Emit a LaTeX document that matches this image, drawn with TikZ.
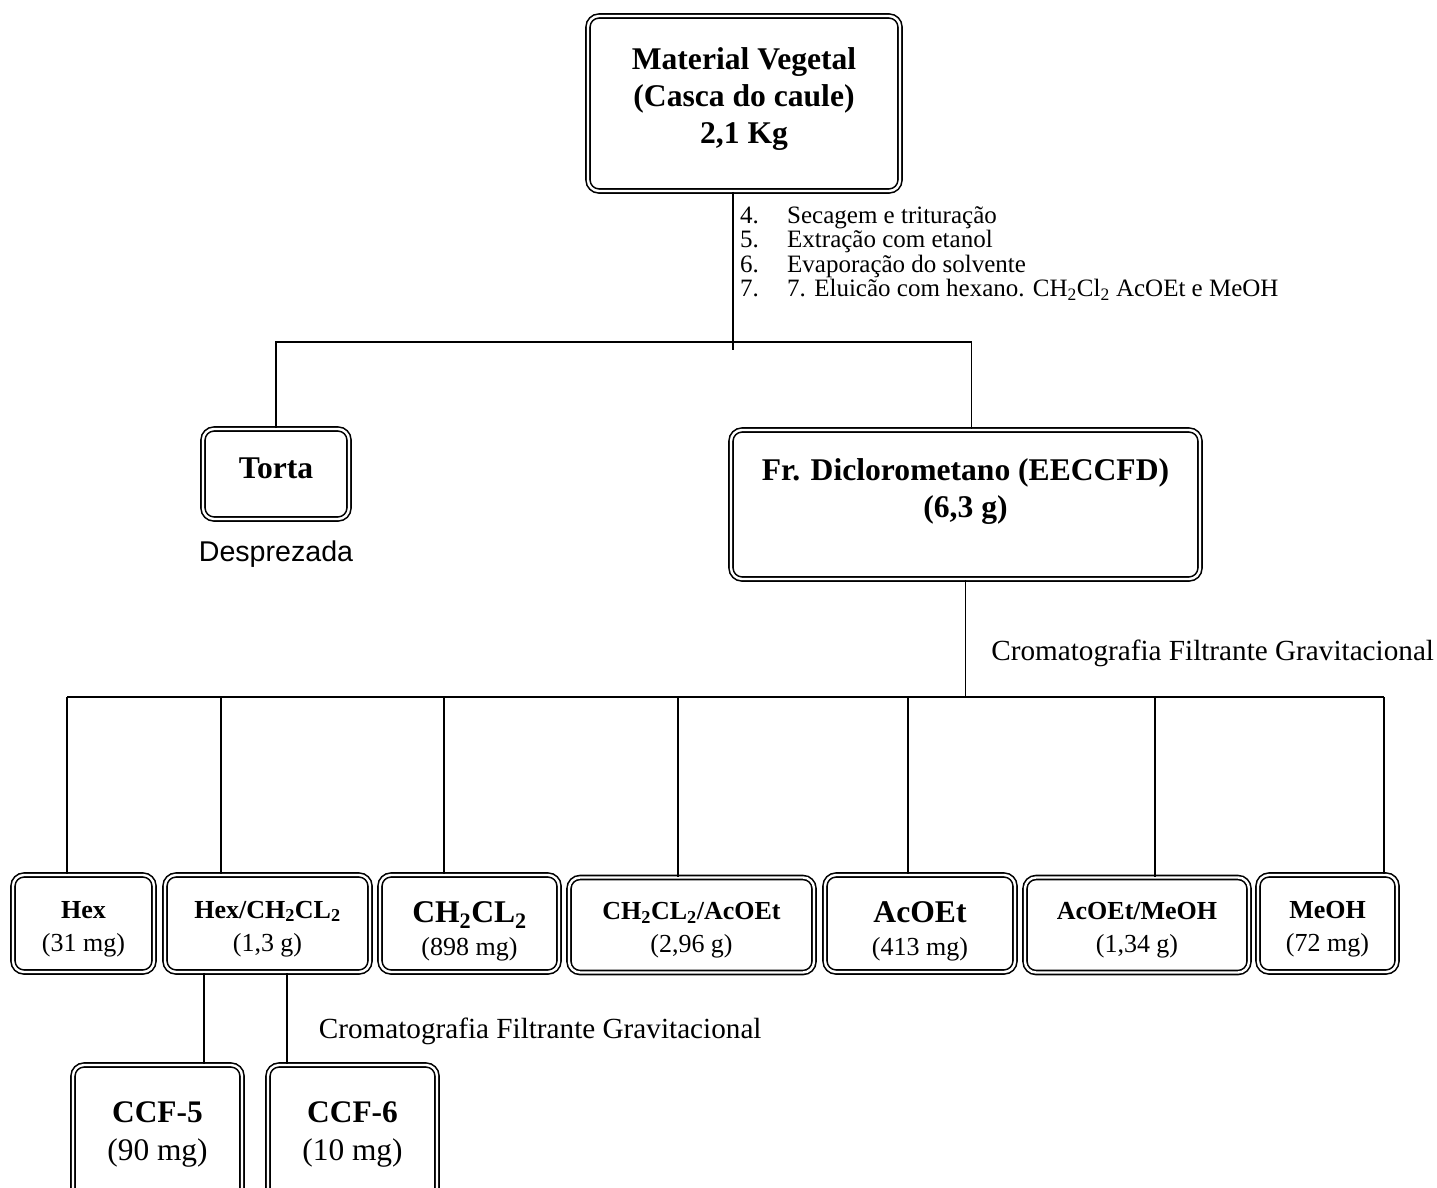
\documentclass[tikz,border=0pt]{standalone}
\usepackage{fontspec}
\setmainfont{Liberation Serif}
\newfontfamily\arialfont{Liberation Sans}
\usetikzlibrary{positioning}

\begin{document}
\begin{tikzpicture}[
    x=1pt, y=-1pt,
    frac/.style={draw, double, double distance=2.4pt, line width=1.6pt, rounded corners=11pt, align=center, inner sep=0pt},
    link/.style={line width=1.6pt},
    headfont/.style={font=\fontsize{31.6}{37}\selectfont\bfseries},
    fracfont/.style={font=\fontsize{26}{33}\selectfont},
    note/.style={font=\fontsize{29.2}{35}\selectfont, inner sep=0pt},
  ]

  \useasboundingbox (0,0) rectangle (1437,1187);
  \clip (0,0) rectangle (1437,1187);

  % Nodes
  \node[frac, headfont, minimum width=312pt, minimum height=175pt] (matveg) at (744,103.5)
    {Material Vegetal\\(Casca do caule)\\2,1 Kg\rule[-16pt]{0pt}{16pt}};
  \node[frac, headfont, minimum width=146pt, minimum height=90pt] (torta) at (276,474)
    {Torta\rule[-11pt]{0pt}{11pt}};
  \node[frac, headfont, minimum width=469pt, minimum height=149pt] (frdcm) at (965.5,504.5)
    {Fr. Diclorometano (EECCFD)\\(6,3 g)\rule[-33pt]{0pt}{33pt}};

  % Fractions
  \node[frac, fracfont, minimum width=141pt, minimum height=97pt] (hex) at (83.5,923.5)
    {\rule{0pt}{28pt}\textbf{Hex}\\(31 mg)};
  \node[frac, fracfont, minimum width=205pt, minimum height=97pt] (hexdcm) at (267.5,923.5)
    {\rule{0pt}{28pt}\textbf{Hex/CH\textsubscript{2}CL\textsubscript{2}}\\(1,3 g)};
  \node[frac, fracfont, minimum width=179pt, minimum height=97pt] (dcm) at (469.5,923.5)
    {\rule{0pt}{36pt}{\fontsize{31.6}{37}\selectfont\bfseries CH\textsubscript{2}CL\textsubscript{2}}\\(898 mg)};
  \node[frac, fracfont, minimum width=245pt, minimum height=95pt] (dcmac) at (691.5,925)
    {\rule{0pt}{28pt}\textbf{CH\textsubscript{2}CL\textsubscript{2}/AcOEt}\\(2,96 g)};
  \node[frac, fracfont, minimum width=190pt, minimum height=97pt] (acoet) at (920,923.5)
    {\rule{0pt}{36pt}{\fontsize{31.6}{37}\selectfont\bfseries AcOEt}\\(413 mg)};
  \node[frac, fracfont, minimum width=224pt, minimum height=95pt] (acmeoh) at (1137,925)
    {\rule{0pt}{28pt}\textbf{AcOEt/MeOH}\\(1,34 g)};
  \node[frac, fracfont, minimum width=139pt, minimum height=97pt] (meoh) at (1327.5,923.5)
    {\rule{0pt}{28pt}\textbf{MeOH}\\(72 mg)};

  \node[frac, font=\fontsize{31.4}{38}\selectfont, minimum width=169pt, minimum height=150pt] (ccf5) at (157.5,1140)
    {\textbf{CCF-5}\\(90 mg)\rule[-17pt]{0pt}{17pt}};
  \node[frac, font=\fontsize{31.4}{38}\selectfont, minimum width=169pt, minimum height=150pt] (ccf6) at (352.5,1140)
    {\textbf{CCF-6}\\(10 mg)\rule[-17pt]{0pt}{17pt}};

  % Texts
  \node[anchor=north west, align=left, inner sep=0pt, font=\fontsize{25}{24.5}\selectfont] (steps) at (740,206)
    {\makebox[47pt][l]{4.}Secagem e trituração\\
     \makebox[47pt][l]{5.}Extração com etanol\\
     \makebox[47pt][l]{6.}Evaporação do solvente\\
     \makebox[47pt][l]{7.}7. Eluicão com hexano. CH\textsubscript{2}Cl\textsubscript{2} AcOEt e MeOH};
  \node[below=21pt of torta, inner sep=0pt, font=\arialfont\fontsize{28.6}{34}\selectfont] (desp) {Desprezada};

  % Edges
  \coordinate (split) at (733,342);
  \coordinate (bus) at (963,697);
  \draw[link] (matveg.south -| split) -- ([yshift=-8pt]split);
  \draw[link] (torta.north) |- (split) -| ([xshift=6pt]frdcm.north);
  \draw[link] (frdcm.south) -- node[note, pos=0.63, anchor=west, xshift=25pt] {Cromatografia Filtrante Gravitacional} (frdcm.south |- bus);
  \draw[link] (bus -| 67,0) -- (bus -| 1384,0);
  \foreach \b/\x in {hex/67, hexdcm/221, dcm/444, dcmac/678, acoet/908, acmeoh/1155, meoh/1384}
    \draw[link] (bus -| \x,0) -- (\b.north -| \x,0);
  \draw[link] (hexdcm.south -| 204,0) -- (ccf5.north -| 204,0);
  \draw[link] (hexdcm.south -| 287,0) -- node[note, pos=0.64, anchor=west, xshift=31pt] {Cromatografia Filtrante Gravitacional} (ccf6.north -| 287,0);

\end{tikzpicture}
\end{document}
